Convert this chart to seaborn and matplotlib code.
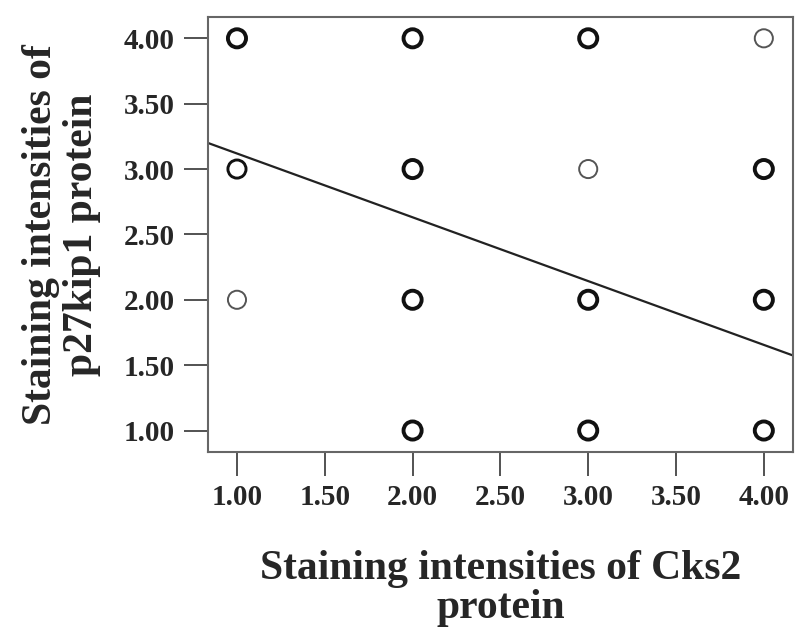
import numpy as np
import pandas as pd
import matplotlib
matplotlib.use("Agg")
import matplotlib.pyplot as plt
import seaborn as sns

# observed score combinations (Cks2 vs p27kip1) and estimated case counts
cks2 = [1, 2, 3, 4, 1, 2, 3, 4, 1, 2, 3, 4, 2, 3, 4]
p27 = [4, 4, 4, 4, 3, 3, 3, 3, 2, 2, 2, 2, 1, 1, 1]
cases = [3, 4, 3, 1, 2, 4, 1, 3, 1, 4, 4, 4, 3, 5, 4]

# fitted regression line
fit_intercept = 3.607
fit_slope = -0.488

ticks = [1.0, 1.5, 2.0, 2.5, 3.0, 3.5, 4.0]
tick_labels = ["1.00", "1.50", "2.00", "2.50", "3.00", "3.50", "4.00"]
lims = (0.835, 4.165)

sns.set_style("ticks")
plt.rcParams["font.family"] = ["Liberation Serif", "DejaVu Serif"]
plt.rcParams["font.weight"] = "bold"

df = pd.DataFrame({"x": cks2, "y": p27, "n": cases})
df["lw"] = df["n"].map(lambda n: 1.4 if n == 1 else (2.1 if n == 2 else 2.8))
df["ec"] = df["n"].map(lambda n: "#555555" if n == 1 else "#111111")

fig = plt.figure(figsize=(8, 6.44), dpi=100)
ax = fig.add_axes([0.26, 0.298, 0.731, 0.676])

sns.scatterplot(data=df, x="x", y="y", ax=ax, s=170, marker="o",
                facecolors="none", edgecolors=df["ec"], linewidths=df["lw"],
                legend=False)

fit_x = np.array(lims)
fit = pd.DataFrame({"x": fit_x, "y": fit_intercept + fit_slope * fit_x})
sns.lineplot(data=fit, x="x", y="y", ax=ax, color="#222222", linewidth=1.6)

ax.set_xlim(lims)
ax.set_ylim(lims)
ax.set_xticks(ticks)
ax.set_xticklabels(tick_labels)
ax.set_yticks(ticks)
ax.set_yticklabels(tick_labels)
ax.tick_params(axis="both", length=17, width=1.3, color="#444444",
               labelsize=21, pad=6)
ax.tick_params(axis="y", pad=7)
for side in ["top", "right", "left", "bottom"]:
    ax.spines[side].set_visible(True)
    ax.spines[side].set_color("#666666")
    ax.spines[side].set_linewidth(1.5)

ax.set_xlabel("Staining intensities of Cks2\nprotein", fontsize=30,
              fontweight="bold", linespacing=1.05, labelpad=28)
ax.set_ylabel("Staining intensities of\np27kip1 protein", fontsize=30,
              fontweight="bold", linespacing=1.1, labelpad=16)

fig.savefig("out.png", dpi=100, facecolor="white")
